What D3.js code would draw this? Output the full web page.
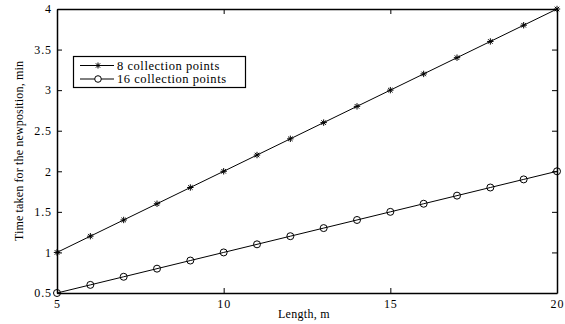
<!DOCTYPE html>
<html>
<head>
<meta charset="utf-8">
<script src="https://cdn.jsdelivr.net/npm/d3@7"></script>
<style>
  html, body { margin: 0; padding: 0; background: #fff; }
  svg text { font-family: "Liberation Serif", "DejaVu Serif", serif; fill: #000; }
</style>
</head>
<body>
<svg id="chart" width="565" height="324"></svg>
<script>
// Length of the route, m
const lengths = [5, 6, 7, 8, 9, 10, 11, 12, 13, 14, 15, 16, 17, 18, 19, 20];
// Time taken for the new position, min
const time8 = [1.0, 1.2, 1.4, 1.6, 1.8, 2.0, 2.2, 2.4, 2.6, 2.8, 3.0, 3.2, 3.4, 3.6, 3.8, 4.0];
const time16 = [0.5, 0.6, 0.7, 0.8, 0.9, 1.0, 1.1, 1.2, 1.3, 1.4, 1.5, 1.6, 1.7, 1.8, 1.9, 2.0];
const seriesNames = ["8 collection points", "16 collection points"];
const xTicks = [5, 10, 15, 20];
const yTicks = [0.5, 1, 1.5, 2, 2.5, 3, 3.5, 4];

const margin = { left: 57, right: 8, top: 9, bottom: 31 };
const W = 565, H = 324;
const svg = d3.select("#chart");

const x = d3.scaleLinear().domain([5, 20]).range([margin.left, W - margin.right]);
const y = d3.scaleLinear().domain([0.5, 4]).range([H - margin.bottom, margin.top]);

const fmt = d => String(d);
const tickText = g => g.selectAll("text").attr("font-size", 12).attr("letter-spacing", 0.9);

// Axes with inward ticks on all four sides
const tickLen = 5;
svg.append("g").attr("transform", `translate(0,${y(0.5)})`)
  .call(d3.axisBottom(x).tickValues(xTicks).tickFormat(fmt).tickSizeInner(-tickLen).tickSizeOuter(0).tickPadding(6))
  .call(tickText);
svg.append("g").attr("transform", `translate(${x(5)},0)`)
  .call(d3.axisLeft(y).tickValues(yTicks).tickFormat(fmt).tickSizeInner(-tickLen).tickSizeOuter(0).tickPadding(5))
  .call(tickText);
svg.append("g").attr("transform", `translate(0,${y(4)})`)
  .call(d3.axisTop(x).tickValues(xTicks).tickFormat("").tickSizeInner(-tickLen).tickSizeOuter(0));
svg.append("g").attr("transform", `translate(${x(20)},0)`)
  .call(d3.axisRight(y).tickValues(yTicks).tickFormat("").tickSizeInner(-tickLen).tickSizeOuter(0));
svg.selectAll(".domain").attr("stroke", "#000").attr("stroke-width", 1.5);
svg.selectAll(".tick line").attr("stroke", "#000").attr("stroke-width", 1);

// Axis titles
svg.append("text").attr("x", 304).attr("y", 318)
  .attr("text-anchor", "middle").attr("font-size", 12).attr("letter-spacing", 0.3).text("Length, m");
svg.append("text")
  .attr("transform", `translate(23,${(y(0.5) + y(4)) / 2}) rotate(-90)`)
  .attr("text-anchor", "middle").attr("font-size", 12).attr("letter-spacing", 0.15)
  .text("Time taken for the newposition, min");

const line = d3.line().x((d, i) => x(lengths[i])).y(d => y(d));

// Asterisk marker path
function star(cx, cy, r) {
  let p = "";
  for (let k = 0; k < 4; k++) {
    const a = k * Math.PI / 4;
    const dx = r * Math.cos(a), dy = r * Math.sin(a);
    p += `M${cx - dx},${cy - dy}L${cx + dx},${cy + dy}`;
  }
  return p;
}

// Series: 8 collection points
svg.append("path").datum(time8).attr("d", line)
  .attr("fill", "none").attr("stroke", "#000").attr("stroke-width", 1);
svg.append("g").selectAll("path").data(time8).join("path")
  .attr("d", (d, i) => star(x(lengths[i]), y(d), 3.2))
  .attr("stroke", "#000").attr("stroke-width", 1);

// Series: 16 collection points
svg.append("path").datum(time16).attr("d", line)
  .attr("fill", "none").attr("stroke", "#000").attr("stroke-width", 1);
svg.append("g").selectAll("circle").data(time16).join("circle")
  .attr("cx", (d, i) => x(lengths[i])).attr("cy", d => y(d)).attr("r", 3.5)
  .attr("fill", "none").attr("stroke", "#000").attr("stroke-width", 1);

// Legend
const lg = svg.append("g");
lg.append("rect").attr("x", 73.5).attr("y", 56.5).attr("width", 172).attr("height", 31)
  .attr("fill", "#fff").attr("stroke", "#000").attr("stroke-width", 1.2);
const rows = [65.5, 79];
seriesNames.forEach((name, i) => {
  const ry = rows[i];
  lg.append("line").attr("x1", 80).attr("x2", 114).attr("y1", ry).attr("y2", ry)
    .attr("stroke", "#000").attr("stroke-width", 1);
  if (i === 0) {
    lg.append("path").attr("d", star(98, ry, 3)).attr("stroke", "#000").attr("stroke-width", 1);
  } else {
    lg.append("circle").attr("cx", 98).attr("cy", ry).attr("r", 3.3)
      .attr("fill", "#fff").attr("stroke", "#000").attr("stroke-width", 1);
  }
  lg.append("text").attr("x", 117).attr("y", ry + 4).attr("font-size", 12.5)
    .attr("letter-spacing", 0.55).text(name);
});
</script>
</body>
</html>
